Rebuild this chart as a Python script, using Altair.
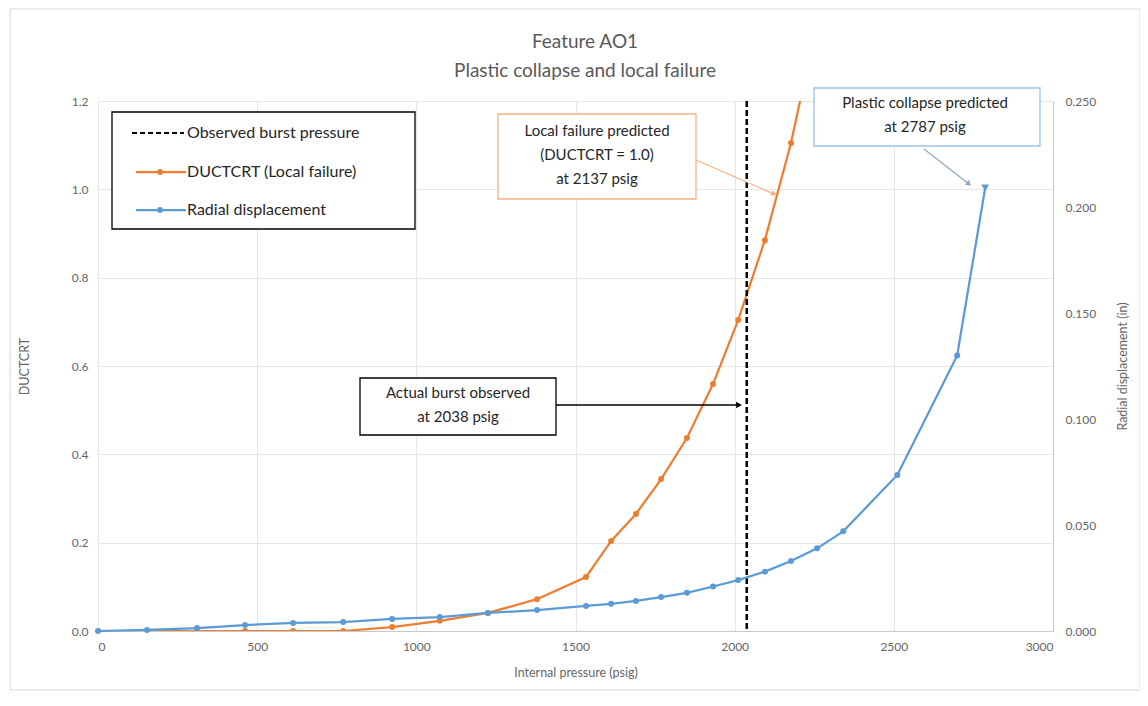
import altair as alt
import pandas as pd

# ---------------- data ----------------
pressure = [0, 154, 311, 462, 613, 770, 924, 1074, 1225, 1379, 1533, 1612, 1690,
            1769, 1850, 1932, 2011, 2095, 2177, 2259, 2341, 2511, 2699, 2787]
ductcrt = [0.0, 0.0, 0.0, 0.0, 0.0, 0.0, 0.009, 0.023, 0.041, 0.072, 0.122, 0.204,
           0.265, 0.344, 0.437, 0.559, 0.704, 0.885, 1.105, 1.38, None, None, None, None]
radial = [0.0, 0.0005, 0.0014, 0.0028, 0.0038, 0.0042, 0.0057, 0.0066, 0.0085, 0.0099,
          0.0118, 0.0128, 0.0142, 0.016, 0.018, 0.021, 0.024, 0.028, 0.033, 0.039,
          0.047, 0.0736, 0.130, 0.209]
observed_burst = [2038]

title_lines = ["Feature AO1", "Plastic collapse and local failure"]
legend_labels = ["Observed burst pressure", "DUCTCRT (Local failure)", "Radial displacement"]
note_burst = ["Actual burst observed", "at 2038 psig"]
note_local = ["Local failure predicted", "(DUCTCRT = 1.0)", "at 2137 psig"]
note_plastic = ["Plastic collapse predicted", "at 2787 psig"]

x_ticks = [0, 500, 1000, 1500, 2000, 2500, 3000]
left_ticks = [0.0, 0.2, 0.4, 0.6, 0.8, 1.0, 1.2]
right_ticks = [0.0, 0.05, 0.10, 0.15, 0.20, 0.25]

ORANGE = "#ED7D31"
BLUE = "#5B9BD5"
GRAY = "#666666"
FONT = "Lato"

W, H = 955, 530

df = pd.DataFrame({"pressure": pressure, "ductcrt": ductcrt, "radial": radial})
df_d = df.dropna(subset=["ductcrt"])
one = pd.DataFrame({"a": [0]})

xenc = alt.X("pressure:Q", scale=alt.Scale(domain=[0, 3000], nice=False),
             axis=alt.Axis(values=x_ticks, title="Internal pressure (psig)", grid=True,
                           gridColor="#e6e6e6", domainColor="#c8c8c8", ticks=False,
                           labelPadding=10, titlePadding=14, format="d"))

left_axis = alt.Axis(values=left_ticks, format=".1f", title="DUCTCRT", grid=True,
                     gridColor="#e6e6e6", domain=False, ticks=False, labelPadding=10,
                     titlePadding=40)
yl = alt.Y("ductcrt:Q", scale=alt.Scale(domain=[0, 1.2], nice=False), axis=left_axis)

orange_line = alt.Chart(df_d).mark_line(color=ORANGE, strokeWidth=2.25, clip=True).encode(x=xenc, y=yl)
orange_pts = alt.Chart(df_d).mark_point(color=ORANGE, filled=True, size=36, opacity=1, clip=True).encode(
    x=alt.X("pressure:Q"), y=yl)

burst = alt.Chart(pd.DataFrame({"p": observed_burst})).mark_rule(
    color="black", strokeWidth=2.5, strokeDash=[6, 3]).encode(x=alt.X("p:Q"))

left = alt.layer(orange_line, orange_pts, burst)

right_axis = alt.Axis(values=right_ticks, format=".3f", title="Radial displacement (in)",
                      orient="right", grid=False, domainColor="#c8c8c8", ticks=False,
                      labelPadding=12, titlePadding=34, titleAngle=270)
yr = alt.Y("radial:Q", scale=alt.Scale(domain=[0, 0.25], nice=False), axis=right_axis)
blue_line = alt.Chart(df).mark_line(color=BLUE, strokeWidth=2.25).encode(x=alt.X("pressure:Q"), y=yr)
blue_pts = alt.Chart(df).mark_point(color=BLUE, filled=True, opacity=1).encode(
    x=alt.X("pressure:Q"), y=yr,
    shape=alt.condition("datum.pressure >= 2787", alt.value("triangle-down"), alt.value("circle")),
    size=alt.condition("datum.pressure >= 2787", alt.value(60), alt.value(36)))
right = alt.layer(blue_line, blue_pts)


# ---------------- annotations (pixel positions) ----------------
def box(x1, y1, x2, y2, stroke, sw=1.2):
    return alt.Chart(one).mark_rect(fill="white", stroke=stroke, strokeWidth=sw, clip=False).encode(
        x=alt.value(x1), x2=alt.value(x2), y=alt.value(y1), y2=alt.value(y2))


def seg(x1, y1, x2, y2, color, sw=1.2, dash=None):
    kw = dict(color=color, strokeWidth=sw, clip=False)
    if dash:
        kw["strokeDash"] = dash
    return alt.Chart(one).mark_rule(**kw).encode(
        x=alt.value(x1), x2=alt.value(x2), y=alt.value(y1), y2=alt.value(y2))


def head(x, y, angle, color, size=50):
    return alt.Chart(one).mark_point(shape="triangle-up", filled=True, color=color, opacity=1,
                                     size=size, angle=angle, clip=False).encode(
        x=alt.value(x), y=alt.value(y))


def lines(texts, x, y0, dy, size, align="center"):
    d = pd.DataFrame({"t": texts, "i": list(range(len(texts)))})
    return alt.Chart(d).transform_calculate(yy=f"{y0} + datum.i * {dy}").mark_text(
        font=FONT, fontSize=size, color="#262626", align=align, baseline="middle", clip=False).encode(
        text="t:N", x=alt.value(x), y=alt.Y("yy:Q", scale=None))


def pt(x, y, color, size=36):
    return alt.Chart(one).mark_point(shape="circle", filled=True, color=color, opacity=1,
                                     size=size, clip=False).encode(x=alt.value(x), y=alt.value(y))


frame = alt.Chart(one).mark_rect(fill=None, stroke="#d9d9d9", strokeWidth=1, clip=False).encode(
    x=alt.value(-88), x2=alt.value(1042), y=alt.value(-92), y2=alt.value(589))

title = alt.Chart(pd.DataFrame({"t": title_lines, "i": [0, 1]})).transform_calculate(
    yy="-59 + datum.i * 29").mark_text(font=FONT, fontSize=19, color="#595959", baseline="middle",
                                       clip=False).encode(
    text="t:N", x=alt.value(487), y=alt.Y("yy:Q", scale=None))

# legend
leg_box = box(14, 11, 317, 128, "black", 1.3)
leg_items = [
    seg(34, 32, 86, 32, "black", 2.2, [5, 3]),
    seg(38, 71, 88, 71, ORANGE, 2.25), pt(62, 71, ORANGE),
    seg(38, 109, 88, 109, BLUE, 2.25), pt(62, 109, BLUE),
]
leg_txt = lines(legend_labels, 89, 32, 38.5, 16, align="left")

# actual burst
b_box = box(262, 277, 458, 334, "black", 1.3)
b_txt = lines(note_burst, 360, 292, 24, 15)
b_arrow = [seg(458, 304, 640, 304, "black", 1.3), head(641, 304, 90, "black", 45)]

# local failure
l_box = box(400, 13, 598, 98, "#F4B183", 1.3)
l_txt = lines(note_local, 499, 30, 24, 15)
l_arrow = [seg(598, 59, 676, 93, "#F4B183", 1.3), head(676, 93, 114, "#F4B183", 40)]

# plastic collapse
p_box = box(716, -13, 942, 45, "#9DC3E6", 1.3)
p_txt = lines(note_plastic, 827, 2, 24, 15)
p_arrow = [seg(826, 48, 871, 83, "#8FAAC4", 1.3), head(871, 83, 128, "#8FAAC4", 40)]

chart = alt.layer(
    frame, left, right, title,
    leg_box, *leg_items, leg_txt,
    b_box, b_txt, *b_arrow,
    l_box, l_txt, *l_arrow,
    p_box, p_txt, *p_arrow,
).resolve_scale(y="independent").properties(
    width=W, height=H,
    autosize=alt.AutoSizeParams(type="none"),
    padding={"left": 90, "top": 93, "right": 87, "bottom": 67},
).configure_view(stroke=None).configure_axis(
    labelFont=FONT, titleFont=FONT, labelFontSize=12, titleFontSize=12.5,
    labelColor=GRAY, titleColor=GRAY, titleFontWeight="normal",
)

chart.save("out.html", embed_options={"renderer": "svg", "actions": False})
